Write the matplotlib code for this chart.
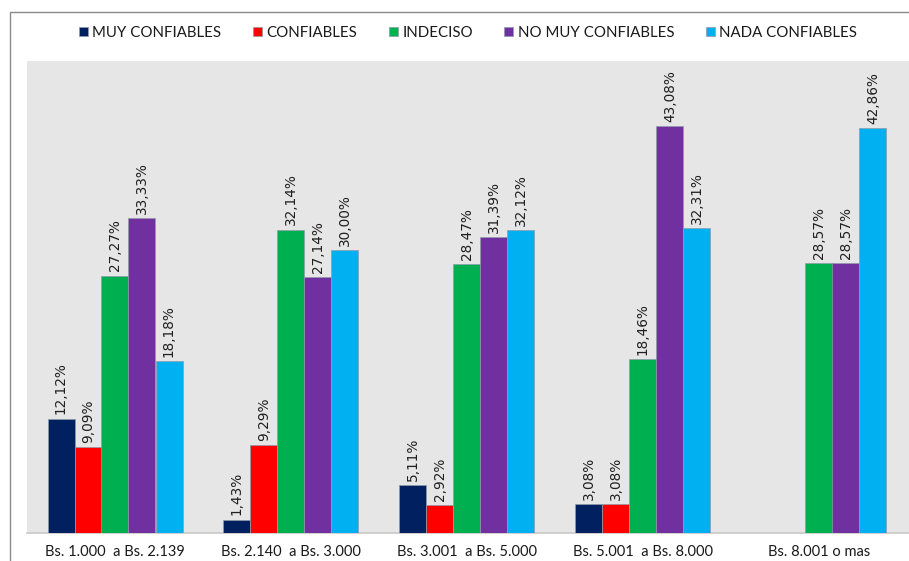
import matplotlib
matplotlib.use("Agg")
import matplotlib.pyplot as plt
from matplotlib.patches import Rectangle
from matplotlib import font_manager
import numpy as np

categories = ["Bs. 1.000  a Bs. 2.139", "Bs. 2.140  a Bs. 3.000",
              "Bs. 3.001  a Bs. 5.000", "Bs. 5.001  a Bs. 8.000",
              "Bs. 8.001 o mas"]
series_names = ["MUY CONFIABLES", "CONFIABLES", "INDECISO",
                "NO MUY CONFIABLES", "NADA CONFIABLES"]
muy_confiables = [12.12, 1.43, 5.11, 3.08, 0.0]
confiables = [9.09, 9.29, 2.92, 3.08, 0.0]
indeciso = [27.27, 32.14, 28.47, 18.46, 28.57]
no_muy_confiables = [33.33, 27.14, 31.39, 43.08, 28.57]
nada_confiables = [18.18, 30.00, 32.12, 32.31, 42.86]
colors = ["#002060", "#FF0000", "#00B050", "#7030A0", "#00B0F0"]

series = [muy_confiables, confiables, indeciso, no_muy_confiables, nada_confiables]

# narrow face for the value labels, if present
installed = {f.name for f in font_manager.fontManager.ttflist}
label_font = "Liberation Sans Narrow" if "Liberation Sans Narrow" in installed else "DejaVu Sans"
label_size = 11.5 if label_font == "Liberation Sans Narrow" else 9.8

fig = plt.figure(figsize=(9.09, 5.61), dpi=100)
fig.patch.set_facecolor("white")

# outer chart frame (left and top edges visible)
fig.patches.append(Rectangle((10 / 909, -0.1), 1.2, 1 - 12 / 561 + 0.1,
                             transform=fig.transFigure, fill=False,
                             edgecolor="#8a8a8a", linewidth=1.0))

ax = fig.add_axes([27 / 909, 28 / 561, 882 / 909, 472 / 561])
ax.set_facecolor("#E6E6E6")

x = np.arange(len(categories))
w = 27 / 176
handles = []
for i, (vals, name, col) in enumerate(zip(series, series_names, colors)):
    offs = (i - 2) * w
    vals = np.array(vals)
    mask = vals > 0
    b = ax.bar(x[mask] + offs, vals[mask], width=w, color=col,
               edgecolor="#8f9cab", linewidth=0.5, label=name, zorder=3)
    handles.append(b)
    for xi, v in zip(x[mask] + offs, vals[mask]):
        ax.annotate(f"{v:.2f}%".replace(".", ","), (xi, v),
                    xytext=(0, 3), textcoords="offset points",
                    rotation=90, ha="center", va="bottom",
                    fontsize=label_size, color="#1f1f1f", family=label_font)

ax.set_xlim(-0.5, 4.5 + 2 / 176)
ax.set_ylim(0, 50)
ax.set_yticks([])
ax.set_xticks(x)
ax.set_xticklabels(categories, fontsize=10.5, family="Lato", color="#1a1a1a")
ax.tick_params(axis="x", length=0, pad=9)
for s in ["top", "right", "left"]:
    ax.spines[s].set_visible(False)
ax.spines["bottom"].set_color("#c8c8c8")
ax.spines["bottom"].set_linewidth(1.2)

leg = fig.legend(handles=handles, labels=series_names, loc="center",
                 bbox_to_anchor=(468 / 909, 1 - 33 / 561), ncol=5,
                 frameon=False, prop={"family": "Lato", "size": 10.8},
                 handlelength=0.6, handleheight=0.6, handletextpad=0.3,
                 columnspacing=2.1)
for t in leg.get_texts():
    t.set_color("#1a1a1a")

fig.savefig("out.png", dpi=100)
